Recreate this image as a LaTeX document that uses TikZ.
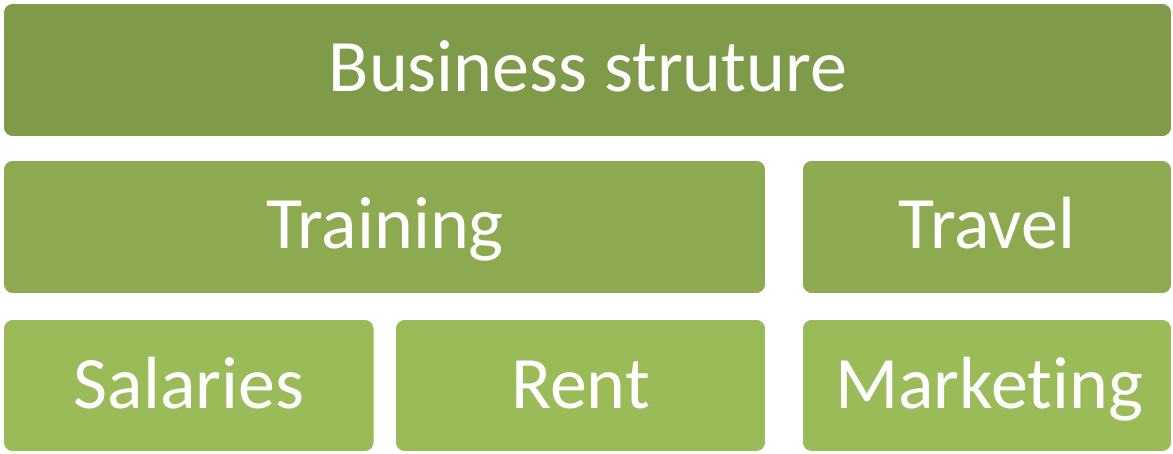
\documentclass[tikz,border=0pt]{standalone}
\usepackage{fontspec}
\setmainfont[RawFeature={-liga;-clig;-dlig}]{Carlito}
\definecolor{topgreen}{HTML}{7F9A48}
\definecolor{midgreen}{HTML}{8DAA51}
\definecolor{lowgreen}{HTML}{9BBB59}
\begin{document}
\begin{tikzpicture}[x=1pt,y=-1pt,
  block/.style={rounded corners=9pt, draw=white, line width=0.8pt},
  label/.style={text=white, font=\fontsize{74}{74}\selectfont, anchor=base, inner sep=0pt}]
\useasboundingbox (0,0) rectangle (1173,453);
% top level
\draw[block, fill=topgreen] (3.5,3.5) rectangle (1171.5,136.5);
\node[label] (biz) at (588,91) {Business struture};
% second level
\draw[block, fill=midgreen] (3.5,160.5) rectangle (765.5,293.5);
\node[label] (train) at (385,248) {Training};
\draw[block, fill=midgreen] (802.5,160.5) rectangle (1171.5,293.5);
\node[label] (travel) at (987,248) {Travel};
% third level
\draw[block, fill=lowgreen] (3.5,319.5) rectangle (374,451.5);
\node[label] (sal) at (189,408) {Salaries};
\draw[block, fill=lowgreen] (395.5,319.5) rectangle (765.5,451.5);
\node[label] (rent) at (580.5,408) {Rent};
\draw[block, fill=lowgreen] (802.5,319.5) rectangle (1171.5,451.5);
\node[label] (mkt) at (989,408) {Marketing};
\end{tikzpicture}
\end{document}
